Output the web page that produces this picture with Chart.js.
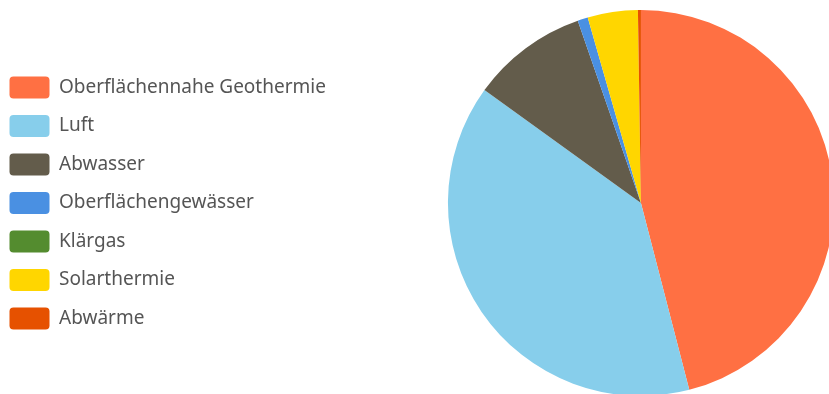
<!DOCTYPE html>
<html lang="de">
<head>
  <meta charset="UTF-8">
  <title>Wärmequellen</title>
  <script src="https://cdn.jsdelivr.net/npm/chart.js"></script>
  <style>
    html, body { margin: 0; padding: 0; background: #fff; overflow: hidden; }
    #wrap { position: absolute; left: 0; top: 0; width: 946px; height: 408px; }
  </style>
</head>
<body>
  <div id="wrap"><canvas id="pieChart"></canvas></div>
  <script>
    // values (share in %)
    const labels = ['Oberflächennahe Geothermie', 'Luft', 'Abwasser', 'Oberflächengewässer', 'Klärgas', 'Solarthermie', 'Abwärme'];
    const shares = [46.0, 39.0, 9.75, 0.86, 0, 4.2, 0.25];
    const colors = ['#ff7043', '#87ceeb', '#635c4b', '#4a90e2', '#548c2f', '#ffd600', '#e65100'];

    const ctx = document.getElementById('pieChart').getContext('2d');
    new Chart(ctx, {
      type: 'pie',
      data: {
        labels: labels,
        datasets: [{
          data: shares,
          backgroundColor: colors,
          borderWidth: 0
        }]
      },
      options: {
        responsive: true,
        maintainAspectRatio: false,
        animation: false,
        layout: { padding: { top: 10, bottom: 12, left: -7, right: 0 } },
        plugins: {
          tooltip: { enabled: false },
          legend: {
            position: 'left',
            align: 'center',
            labels: {
              boxWidth: 40,
              boxHeight: 22,
              padding: 16.5,
              color: '#555',
              font: { family: 'Noto Sans', size: 19 },
              useBorderRadius: true,
              borderRadius: 4
            }
          }
        }
      }
    });
  </script>
</body>
</html>
